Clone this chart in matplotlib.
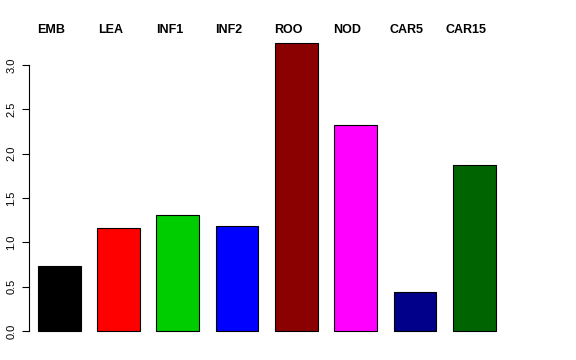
import matplotlib
matplotlib.use('Agg')
import matplotlib.pyplot as plt
import numpy as np

plt.rcParams['font.family'] = ['Liberation Sans', 'DejaVu Sans']

# 各组织的数值
tissues = ['EMB', 'LEA', 'INF1', 'INF2', 'ROO', 'NOD', 'CAR5', 'CAR15']
values = [0.73, 1.16, 1.31, 1.18, 3.25, 2.32, 0.44, 1.87]
colors = ['black', 'red', '#00CD00', 'blue', '#8B0000', 'magenta', '#00008B', '#006400']
yticks = [0.0, 0.5, 1.0, 1.5, 2.0, 2.5, 3.0]

fig = plt.figure(figsize=(5.76, 3.6), dpi=100)
ax = fig.add_axes([0.0503, 0.0472, 0.826, 0.8667])

x = np.arange(len(tissues))
ax.bar(x, values, width=0.72, color=colors, edgecolor='black', linewidth=0.8)

ax.set_xlim(-0.511, 7.516)
ax.set_ylim(-0.135, 3.382)

for s in ['top', 'right', 'bottom']:
    ax.spines[s].set_visible(False)
ax.spines['left'].set_bounds(0, 3)
ax.spines['left'].set_linewidth(0.8)
ax.set_xticks([])
ax.set_yticks(yticks)
ax.set_yticklabels(['%.1f' % v for v in yticks], rotation=90, va='center', fontsize=8)
ax.tick_params(axis='y', length=5, width=0.8, pad=4)

# 顶部的组织名
for i, name in enumerate(tissues):
    ax.text(i - 0.14, 3.39, name, ha='center', va='center', fontsize=9,
            fontweight='bold', clip_on=False)

fig.savefig('out.png', dpi=100)
